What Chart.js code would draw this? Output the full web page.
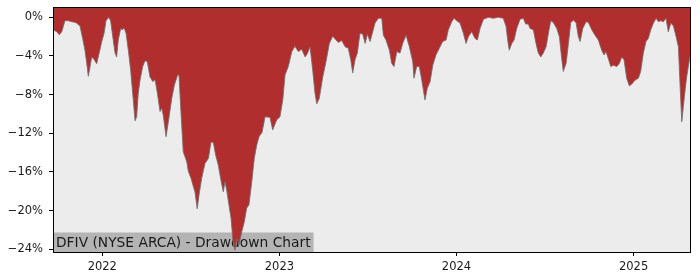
<!DOCTYPE html>
<html>
<head>
<meta charset="utf-8">
<script src="https://cdn.jsdelivr.net/npm/chart.js@4.4.1/dist/chart.umd.min.js"></script>
<style>
  html, body { margin: 0; padding: 0; background: #ffffff; }
  #wrap { width: 700px; height: 280px; position: relative; }
</style>
</head>
<body>
<div id="wrap"><canvas id="c" width="700" height="280"></canvas></div>
<script>
// Time in decimal years
const t = [
2021.723,2021.727,2021.743,2021.757,2021.771,2021.789,2021.808,2021.827,2021.851,2021.874,
2021.889,2021.902,2021.912,2021.921,2021.931,2021.940,2021.953,2021.968,2021.983,2021.997,
2022.010,2022.021,2022.036,2022.047,2022.059,2022.072,2022.081,2022.090,2022.104,2022.113,
2022.123,2022.134,2022.147,2022.160,2022.175,2022.185,2022.194,2022.203,2022.213,2022.228,
2022.241,2022.254,2022.269,2022.285,2022.298,2022.311,2022.326,2022.335,2022.344,2022.360,
2022.373,2022.392,2022.407,2022.426,2022.433,2022.444,2022.457,2022.477,2022.486,2022.501,
2022.514,2022.523,2022.536,2022.546,2022.561,2022.580,2022.599,2022.614,2022.627,2022.640,
2022.655,2022.670,2022.683,2022.693,2022.702,2022.715,2022.727,2022.738,2022.749,2022.761,
2022.772,2022.787,2022.802,2022.815,2022.828,2022.844,2022.858,2022.872,2022.885,2022.902,
2022.919,2022.947,2022.962,2022.985,2023.003,2023.019,2023.032,2023.050,2023.070,2023.088,
2023.107,2023.126,2023.145,2023.158,2023.173,2023.188,2023.201,2023.211,2023.225,2023.245,
2023.263,2023.282,2023.301,2023.320,2023.333,2023.352,2023.371,2023.389,2023.403,2023.414,
2023.427,2023.440,2023.455,2023.471,2023.484,2023.497,2023.512,2023.527,2023.540,2023.559,
2023.578,2023.587,2023.602,2023.621,2023.634,2023.647,2023.663,2023.681,2023.696,2023.715,
2023.734,2023.753,2023.760,2023.775,2023.790,2023.804,2023.822,2023.835,2023.851,2023.866,
2023.884,2023.903,2023.922,2023.941,2023.954,2023.973,2023.986,2024.001,2024.020,2024.039,
2024.054,2024.067,2024.086,2024.105,2024.118,2024.133,2024.152,2024.180,2024.208,2024.236,
2024.264,2024.280,2024.289,2024.298,2024.312,2024.325,2024.340,2024.359,2024.377,2024.391,
2024.406,2024.415,2024.434,2024.449,2024.462,2024.476,2024.490,2024.506,2024.519,2024.532,
2024.547,2024.566,2024.581,2024.594,2024.603,2024.619,2024.632,2024.645,2024.660,2024.675,
2024.688,2024.698,2024.713,2024.732,2024.745,2024.764,2024.782,2024.801,2024.820,2024.833,
2024.844,2024.857,2024.871,2024.886,2024.905,2024.920,2024.933,2024.946,2024.961,2024.976,
2024.990,2025.008,2025.027,2025.040,2025.055,2025.070,2025.083,2025.097,2025.112,2025.127,
2025.140,2025.153,2025.168,2025.183,2025.196,2025.210,2025.225,2025.240,2025.253,2025.262,
2025.272,2025.281,2025.291,2025.300,2025.309,2025.319
];
// Drawdown in percent
const dd = [
-1.3,-1.3,-1.5,-1.8,-1.5,-0.35,-0.35,-0.45,-0.55,-0.9,
-2.2,-3.4,-4.75,-6.1,-5.1,-4.1,-4.35,-4.8,-3.65,-2.5,
-1.65,-0.35,0,-0.35,-2.0,-3.7,-4.1,-2.35,-1.15,-1.3,
-1.1,-1.65,-3.4,-5.45,-8.55,-10.7,-10.3,-7.85,-6.5,-5.1,
-4.5,-4.6,-6.15,-6.65,-6.45,-7.85,-9.75,-9.4,-10.1,-12.35,
-10.8,-8.4,-7.0,-5.95,-6.0,-9.75,-13.9,-14.95,-15.95,-16.65,
-17.5,-18.05,-19.8,-18.4,-16.65,-15.1,-14.6,-12.9,-12.95,-14.25,
-15.3,-16.85,-18.05,-17.0,-17.85,-19.4,-20.8,-23.2,-24.1,-22.9,
-23.55,-22.2,-21.15,-19.75,-19.4,-17.0,-14.6,-13.2,-12.35,-11.9,
-10.3,-10.35,-11.65,-10.6,-10.3,-8.55,-5.95,-5.1,-3.55,-3.0,
-3.55,-3.3,-4.1,-3.75,-3.05,-5.45,-7.85,-8.95,-8.4,-6.15,
-4.6,-2.7,-1.95,-2.35,-2.6,-2.4,-3.05,-3.2,-4.4,-5.75,
-4.4,-3.7,-1.65,-1.75,-2.7,-1.75,-2.5,-1.5,-0.6,-0.1,
-0.1,-1.85,-2.35,-3.4,-4.75,-5.1,-3.55,-3.7,-2.7,-1.85,
-3.05,-4.6,-6.3,-5.1,-5.1,-6.5,-8.55,-7.35,-6.65,-4.95,
-3.9,-3.2,-2.5,-2.35,-1.3,-0.45,-0.1,-0.35,-0.6,-1.65,
-2.7,-2.0,-1.5,-2.2,-2.35,-1.15,-0.2,0,-0.1,0,
-0.1,-0.95,-2.35,-3.4,-2.7,-2.35,-1.15,-0.2,-0.1,-0.7,
-0.7,-1.15,-1.3,-2.7,-3.7,-4.1,-3.7,-3.05,-1.65,-0.35,
-0.55,-1.15,-2.0,-4.25,-5.6,-4.75,-2.7,-0.55,-0.3,-0.55,
-2.0,-2.5,-1.15,-0.45,-0.55,-1.3,-1.85,-2.35,-3.4,-3.9,
-3.55,-4.25,-5.1,-4.95,-5.1,-4.75,-4.1,-4.4,-6.3,-7.1,
-6.9,-6.5,-6.3,-5.6,-3.7,-2.5,-2.2,-1.3,-0.6,-0.1,
-0.45,-0.35,-0.45,-0.1,-1.5,-0.6,-0.9,-2.0,-3.05,-6.85,
-10.8,-9.25,-7.5,-6.15,-5.1,-4.0
];
const yearTicks = [2022, 2023, 2024, 2025];
const pctTicks = [0, -4, -8, -12, -16, -20, -24];
const titleText = 'DFIV (NYSE ARCA) - Drawdown Chart';

const points = t.map((x, i) => ({ x: x, y: dd[i] }));

const framePlugin = {
  id: 'frame',
  beforeDatasetsDraw(chart) {
    const { ctx, chartArea: a } = chart;
    ctx.save();
    ctx.fillStyle = '#ececec';
    ctx.fillRect(a.left, a.top, a.right - a.left, a.bottom - a.top);
    // title box
    ctx.font = '13.8px "DejaVu Sans"';
    const w = ctx.measureText(titleText).width;
    ctx.fillStyle = '#b4b4b4';
    ctx.fillRect(a.left, a.bottom - 19.5, w + 6, 19.5);
    ctx.fillStyle = '#1a1a1a';
    ctx.textBaseline = 'alphabetic';
    ctx.fillText(titleText, a.left + 3, a.bottom - 5.5);
    ctx.restore();
  },
  afterDatasetsDraw(chart) {
    const { ctx, chartArea: a } = chart;
    ctx.save();
    ctx.strokeStyle = '#000000';
    ctx.lineWidth = 1;
    ctx.strokeRect(a.left + 0.5, a.top + 0.5, a.right - a.left, a.bottom - a.top);
    ctx.restore();
  }
};

new Chart(document.getElementById('c'), {
  type: 'line',
  data: {
    datasets: [{
      data: points,
      borderColor: 'rgba(110,110,110,0.85)',
      borderWidth: 1,
      backgroundColor: '#b02e2e',
      fill: 'end',
      pointRadius: 0,
      tension: 0
    }]
  },
  options: {
    responsive: false,
    devicePixelRatio: 1,
    animation: false,
    parsing: false,
    layout: { padding: { left: 0, right: 10, top: 7, bottom: 0 } },
    plugins: { legend: { display: false }, tooltip: { enabled: false }, title: { display: false } },
    scales: {
      x: {
        type: 'linear',
        min: 2021.7216,
        max: 2025.3185,
        afterBuildTicks: s => { s.ticks = yearTicks.map(v => ({ value: v })); },
        afterFit: s => { s.height = 28; s.paddingLeft = 0; s.paddingRight = 0; },
        ticks: {
          callback: v => String(v),
          color: '#1a1a1a',
          font: { family: '"DejaVu Sans"', size: 11.5 },
          padding: 4,
          maxRotation: 0,
          autoSkip: false
        },
        grid: { display: true, drawOnChartArea: false, drawTicks: true, tickLength: 4, tickColor: '#000', tickWidth: 1 },
        border: { display: false }
      },
      y: {
        type: 'linear',
        min: -24.28,
        max: 1.065,
        afterBuildTicks: s => { s.ticks = pctTicks.map(v => ({ value: v })); },
        afterFit: s => { s.width = 53; s.paddingTop = 0; s.paddingBottom = 0; },
        ticks: {
          callback: v => (v < 0 ? '\u2212' : '') + Math.abs(v) + '%',
          color: '#1a1a1a',
          font: { family: '"DejaVu Sans"', size: 11.5 },
          padding: 6,
          autoSkip: false
        },
        grid: { display: true, drawOnChartArea: false, drawTicks: true, tickLength: 4, tickColor: '#000', tickWidth: 1 },
        border: { display: false }
      }
    }
  },
  plugins: [framePlugin]
});
</script>
</body>
</html>
